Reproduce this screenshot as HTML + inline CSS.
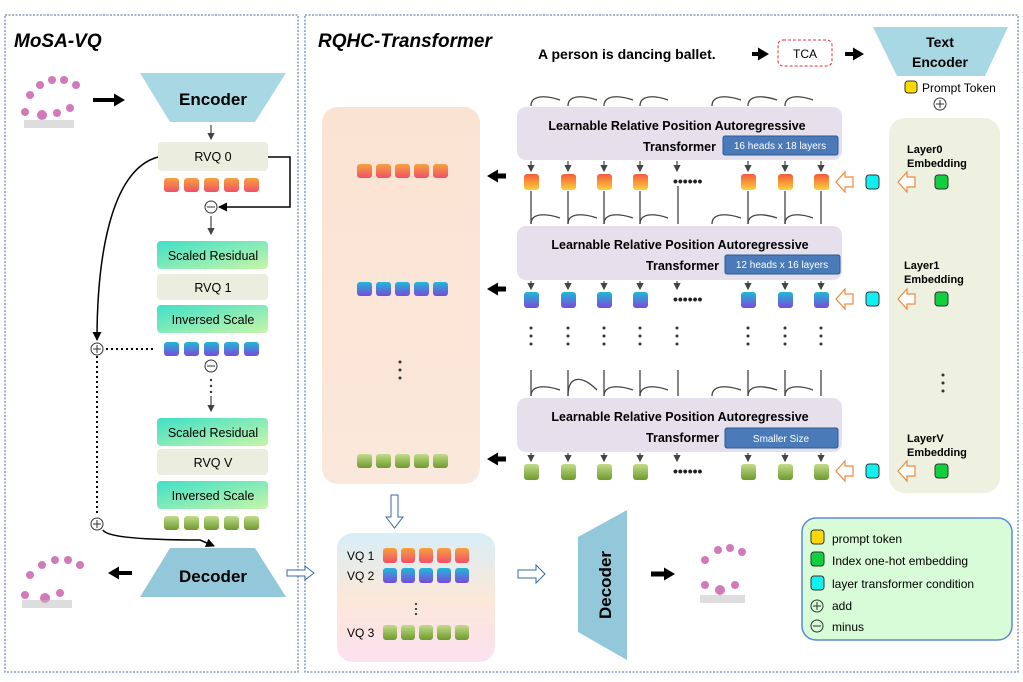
<!DOCTYPE html>
<html><head><meta charset="utf-8"><style>
html,body{margin:0;padding:0;background:#fff}
svg{display:block}
text{font-family:"Liberation Sans","DejaVu Sans",sans-serif}
</style></head><body>
<svg width="1023" height="682" viewBox="0 0 1023 682" xmlns="http://www.w3.org/2000/svg">
<defs>
<linearGradient id="gO" x1="0" y1="0" x2="0" y2="1"><stop offset="0" stop-color="#f7a23c"/><stop offset="1" stop-color="#f0506a"/></linearGradient>
<linearGradient id="gOt" x1="0" y1="0" x2="0" y2="1"><stop offset="0" stop-color="#f45a3a"/><stop offset="1" stop-color="#fdd13a"/></linearGradient>
<linearGradient id="gB" x1="0" y1="0" x2="0" y2="1"><stop offset="0" stop-color="#20b8d8"/><stop offset="1" stop-color="#7a4ad8"/></linearGradient>
<linearGradient id="gG" x1="0" y1="0" x2="0" y2="1"><stop offset="0" stop-color="#c2dc8a"/><stop offset="1" stop-color="#6e9a2e"/></linearGradient>
<linearGradient id="gT" x1="0" y1="0" x2="1" y2="1"><stop offset="0" stop-color="#3ee0c8"/><stop offset="1" stop-color="#c8f5a8"/></linearGradient>
<linearGradient id="gVQ" x1="0" y1="0" x2="0" y2="1"><stop offset="0" stop-color="#d8eef8"/><stop offset="0.5" stop-color="#fbe8d8"/><stop offset="1" stop-color="#fde0f0"/></linearGradient>
<linearGradient id="gP" x1="0" y1="0" x2="0" y2="1"><stop offset="0" stop-color="#fbe3d2"/><stop offset="1" stop-color="#fbe8dc"/></linearGradient>
<marker id="ah" markerWidth="6" markerHeight="6" refX="5" refY="3" orient="auto"><path d="M0,0 L6,3 L0,6 z" fill="#444"/></marker>
<marker id="ahk" markerUnits="userSpaceOnUse" markerWidth="9" markerHeight="9" refX="8" refY="4.5" orient="auto"><path d="M0,0 L9,4.5 L0,9 z" fill="#000"/></marker>
<marker id="ahb" markerUnits="userSpaceOnUse" markerWidth="11" markerHeight="13" refX="2" refY="6.5" orient="auto"><path d="M0,0 L11,6.5 L0,13 z" fill="#000"/></marker>
</defs>

<rect x="5" y="15" width="293" height="657" fill="none" stroke="#8a9ab8" stroke-width="1.5" stroke-dasharray="2,1.5"/>
<rect x="305" y="15" width="713" height="657" fill="none" stroke="#8a9ab8" stroke-width="1.5" stroke-dasharray="2,1.5"/>
<text x="14" y="47" font-size="19" font-weight="bold" font-style="italic">MoSA-VQ</text>
<text x="318" y="47" font-size="19" font-weight="bold" font-style="italic">RQHC-Transformer</text>

<g fill="#c85aa8" opacity="0.8">
<circle cx="30" cy="95" r="4"/><circle cx="40" cy="85" r="4"/><circle cx="52" cy="80" r="4"/><circle cx="64" cy="80" r="4"/><circle cx="76" cy="85" r="4"/><circle cx="25" cy="112" r="4"/><circle cx="42" cy="115" r="5"/><circle cx="57" cy="113" r="4"/><circle cx="70" cy="108" r="4"/>
<circle cx="30" cy="575" r="4"/><circle cx="42" cy="565" r="4"/><circle cx="55" cy="560" r="4"/><circle cx="68" cy="560" r="4"/><circle cx="80" cy="565" r="4"/><circle cx="25" cy="595" r="4"/><circle cx="45" cy="598" r="5"/><circle cx="60" cy="593" r="4"/>
<circle cx="705" cy="560" r="4"/><circle cx="718" cy="550" r="4"/><circle cx="730" cy="548" r="4"/><circle cx="742" cy="552" r="4"/><circle cx="705" cy="585" r="4"/><circle cx="720" cy="590" r="5"/><circle cx="735" cy="585" r="4"/>
</g>
<g fill="#bbb"><rect x="24" y="120" width="50" height="8" opacity="0.5"/><rect x="22" y="600" width="50" height="8" opacity="0.5"/><rect x="700" y="595" width="45" height="8" opacity="0.5"/></g>

<line x1="93" y1="100" x2="116" y2="100" stroke="#000" stroke-width="4" marker-end="url(#ahb)"/>
<polygon points="140,73 286,73 255,122 170,122" fill="#a8d8e4"/>
<text x="213" y="105" font-size="17" font-weight="bold" text-anchor="middle">Encoder</text>
<line x1="211" y1="125" x2="211" y2="139" stroke="#444" stroke-width="1.2" marker-end="url(#ah)"/>

<g font-size="12.5" text-anchor="middle">
<rect x="158" y="142" width="110" height="29" rx="4" fill="#ebedde"/><text x="213" y="161">RVQ 0</text>
<rect x="157" y="241" width="111" height="28" rx="4" fill="url(#gT)"/><text x="213" y="260">Scaled Residual</text>
<rect x="157" y="274" width="111" height="26" rx="4" fill="#ebedde"/><text x="213" y="292">RVQ 1</text>
<rect x="157" y="305" width="111" height="28" rx="4" fill="url(#gT)"/><text x="213" y="324">Inversed Scale</text>
<rect x="157" y="418" width="111" height="28" rx="4" fill="url(#gT)"/><text x="213" y="437">Scaled Residual</text>
<rect x="157" y="449" width="111" height="26" rx="4" fill="#ebedde"/><text x="213" y="467">RVQ V</text>
<rect x="157" y="481" width="111" height="28" rx="4" fill="url(#gT)"/><text x="213" y="500">Inversed Scale</text>
</g>
<g>
<rect x="164" y="178" width="15" height="14" rx="3" fill="url(#gO)"/><rect x="184" y="178" width="15" height="14" rx="3" fill="url(#gO)"/><rect x="204" y="178" width="15" height="14" rx="3" fill="url(#gO)"/><rect x="224" y="178" width="15" height="14" rx="3" fill="url(#gO)"/><rect x="244" y="178" width="15" height="14" rx="3" fill="url(#gO)"/>
<rect x="164" y="342" width="15" height="14" rx="3" fill="url(#gB)"/><rect x="184" y="342" width="15" height="14" rx="3" fill="url(#gB)"/><rect x="204" y="342" width="15" height="14" rx="3" fill="url(#gB)"/><rect x="224" y="342" width="15" height="14" rx="3" fill="url(#gB)"/><rect x="244" y="342" width="15" height="14" rx="3" fill="url(#gB)"/>
<rect x="164" y="516" width="15" height="14" rx="3" fill="url(#gG)"/><rect x="184" y="516" width="15" height="14" rx="3" fill="url(#gG)"/><rect x="204" y="516" width="15" height="14" rx="3" fill="url(#gG)"/><rect x="224" y="516" width="15" height="14" rx="3" fill="url(#gG)"/><rect x="244" y="516" width="15" height="14" rx="3" fill="url(#gG)"/>
</g>
<path d="M268,157 H290 V207 H219" fill="none" stroke="#000" stroke-width="1.5" marker-end="url(#ahk)"/>
<circle cx="211" cy="207" r="6" fill="#fff" stroke="#333"/><line x1="207" y1="207" x2="215" y2="207" stroke="#333"/>
<line x1="211" y1="216" x2="211" y2="234" stroke="#444" stroke-width="1.2" marker-end="url(#ah)"/>
<circle cx="211" cy="366" r="6" fill="#fff" stroke="#333"/><line x1="207" y1="366" x2="215" y2="366" stroke="#333"/>
<g fill="#333"><circle cx="211" cy="380" r="1.2"/><circle cx="211" cy="386" r="1.2"/><circle cx="211" cy="392" r="1.2"/></g>
<line x1="211" y1="396" x2="211" y2="411" stroke="#444" stroke-width="1.2" marker-end="url(#ah)"/>
<path d="M158,157 C110,170 97,260 97,340" fill="none" stroke="#000" stroke-width="1.5" marker-end="url(#ahk)"/>
<circle cx="97" cy="349" r="6" fill="#fff" stroke="#333"/><line x1="93" y1="349" x2="101" y2="349" stroke="#333"/><line x1="97" y1="345" x2="97" y2="353" stroke="#333"/>
<line x1="106" y1="349" x2="155" y2="349" stroke="#000" stroke-width="2" stroke-dasharray="2,3"/>
<line x1="97" y1="356" x2="97" y2="515" stroke="#000" stroke-width="2" stroke-dasharray="2,3"/>
<circle cx="97" cy="524" r="6" fill="#fff" stroke="#333"/><line x1="93" y1="524" x2="101" y2="524" stroke="#333"/><line x1="97" y1="520" x2="97" y2="528" stroke="#333"/>
<path d="M103,530 Q108,540 200,540 L214,546" fill="none" stroke="#000" stroke-width="1.5" marker-end="url(#ahk)"/>
<polygon points="170,548 255,548 286,597 140,597" fill="#92c8da"/>
<text x="213" y="582" font-size="17" font-weight="bold" text-anchor="middle">Decoder</text>
<line x1="132" y1="573" x2="117" y2="573" stroke="#000" stroke-width="4" marker-end="url(#ahb)"/>
<path d="M287,570 H305 V566 L314,573 L305,580 V576 H287 Z" fill="#fff" stroke="#3a6aa8"/>

<text x="538" y="59" font-size="14" font-weight="bold">A person is dancing ballet.</text>
<line x1="752" y1="54" x2="760" y2="54" stroke="#000" stroke-width="4" marker-end="url(#ahb)"/>
<rect x="778" y="40" width="54" height="26" rx="5" fill="#fff" stroke="#e03030" stroke-dasharray="3,2"/>
<text x="805" y="58" font-size="12" text-anchor="middle">TCA</text>
<line x1="845" y1="54" x2="855" y2="54" stroke="#000" stroke-width="4" marker-end="url(#ahb)"/>
<polygon points="873,27 1008,27 985,76 897,76" fill="#a8d8e4"/>
<text x="940" y="47" font-size="14" font-weight="bold" text-anchor="middle">Text</text>
<text x="940" y="67" font-size="14" font-weight="bold" text-anchor="middle">Encoder</text>
<rect x="905" y="81" width="12" height="12" rx="3" fill="#ffd800" stroke="#333"/>
<text x="922" y="92" font-size="12">Prompt Token</text>
<circle cx="940" cy="104" r="6" fill="#fff" stroke="#333"/><line x1="936" y1="104" x2="944" y2="104" stroke="#333"/><line x1="940" y1="100" x2="940" y2="108" stroke="#333"/>

<rect x="889" y="118" width="111" height="375" rx="16" fill="#eef0e0"/>
<rect x="322" y="107" width="158" height="377" rx="16" fill="url(#gP)"/>
<g font-size="11" font-weight="bold">
<text x="907" y="153">Layer0</text><text x="907" y="167">Embedding</text>
<text x="904" y="269">Layer1</text><text x="904" y="283">Embedding</text>
<text x="907" y="442">LayerV</text><text x="907" y="456">Embedding</text>
</g>
<g fill="#333"><circle cx="943" cy="375" r="1.5"/><circle cx="943" cy="383" r="1.5"/><circle cx="943" cy="391" r="1.5"/></g>

<g font-size="12.5" font-weight="bold">
<rect x="517" y="107" width="325" height="53" rx="9" fill="#e6e0ec"/>
<text x="677" y="130" text-anchor="middle">Learnable Relative Position Autoregressive</text>
<text x="716" y="151" text-anchor="end">Transformer</text>
<rect x="517" y="226" width="325" height="54" rx="9" fill="#e6e0ec"/>
<text x="680" y="249" text-anchor="middle">Learnable Relative Position Autoregressive</text>
<text x="719" y="270" text-anchor="end">Transformer</text>
<rect x="517" y="398" width="325" height="54" rx="9" fill="#e6e0ec"/>
<text x="680" y="421" text-anchor="middle">Learnable Relative Position Autoregressive</text>
<text x="719" y="442" text-anchor="end">Transformer</text>
</g>
<g font-size="10" fill="#fff" text-anchor="middle">
<rect x="723" y="136" width="115" height="19" rx="2" fill="#4a7ab8" stroke="#2a5a98"/><text x="780" y="149">16 heads x 18 layers</text>
<rect x="725" y="255" width="115" height="19" rx="2" fill="#4a7ab8" stroke="#2a5a98"/><text x="782" y="268">12 heads x 16 layers</text>
<rect x="725" y="428" width="113" height="20" rx="2" fill="#4a7ab8" stroke="#2a5a98"/><text x="781" y="442">Smaller Size</text>
</g>

<g stroke="#444" stroke-width="1.3" fill="none">
<path d="M531,106 C531,95 545,95 560,100 M568,106 C568,95 582,95 597,100 M604,106 C604,95 618,95 633,100 M640,106 C640,95 654,95 668,100 M712,106 C712,95 726,95 741,100 M748,106 C748,95 762,95 777,100 M785,106 C785,95 799,95 813,100"/>
<path d="M531,224 C531,213 545,213 560,218 M568,224 C568,213 582,213 597,218 M604,224 C604,213 618,213 633,218 M640,224 C640,213 654,213 668,218 M712,224 C712,213 726,213 741,218 M748,224 C748,213 762,213 777,218 M785,224 C785,213 799,213 813,218"/>
<path d="M531,396 C531,385 545,385 560,390 M568,396 C568,375 582,375 597,390 M604,396 C604,385 618,385 633,390 M640,396 C640,385 654,385 668,390 M712,396 C712,385 726,385 741,390 M748,396 C748,385 762,385 777,390 M785,396 C785,385 799,385 813,390"/>
<path d="M531,191 V224 M568,191 V224 M604,191 V224 M640,191 V224 M678,186 V224 M748,191 V224 M785,191 V224 M821,191 V224"/>
<path d="M531,370 V396 M568,370 V396 M604,370 V396 M640,370 V396 M678,370 V396 M748,370 V396 M785,370 V396 M821,370 V396"/>
</g>
<g stroke="#444" stroke-width="1.2">
<line x1="531" y1="161" x2="531" y2="171" marker-end="url(#ah)"/><line x1="568" y1="161" x2="568" y2="171" marker-end="url(#ah)"/><line x1="604" y1="161" x2="604" y2="171" marker-end="url(#ah)"/><line x1="640" y1="161" x2="640" y2="171" marker-end="url(#ah)"/><line x1="677" y1="161" x2="677" y2="171" marker-end="url(#ah)"/><line x1="748" y1="161" x2="748" y2="171" marker-end="url(#ah)"/><line x1="785" y1="161" x2="785" y2="171" marker-end="url(#ah)"/><line x1="821" y1="161" x2="821" y2="171" marker-end="url(#ah)"/>
<line x1="531" y1="281" x2="531" y2="289" marker-end="url(#ah)"/><line x1="568" y1="281" x2="568" y2="289" marker-end="url(#ah)"/><line x1="604" y1="281" x2="604" y2="289" marker-end="url(#ah)"/><line x1="640" y1="281" x2="640" y2="289" marker-end="url(#ah)"/><line x1="677" y1="281" x2="677" y2="289" marker-end="url(#ah)"/><line x1="748" y1="281" x2="748" y2="289" marker-end="url(#ah)"/><line x1="785" y1="281" x2="785" y2="289" marker-end="url(#ah)"/><line x1="821" y1="281" x2="821" y2="289" marker-end="url(#ah)"/>
<line x1="531" y1="453" x2="531" y2="461" marker-end="url(#ah)"/><line x1="568" y1="453" x2="568" y2="461" marker-end="url(#ah)"/><line x1="604" y1="453" x2="604" y2="461" marker-end="url(#ah)"/><line x1="640" y1="453" x2="640" y2="461" marker-end="url(#ah)"/><line x1="677" y1="453" x2="677" y2="461" marker-end="url(#ah)"/><line x1="748" y1="453" x2="748" y2="461" marker-end="url(#ah)"/><line x1="785" y1="453" x2="785" y2="461" marker-end="url(#ah)"/><line x1="821" y1="453" x2="821" y2="461" marker-end="url(#ah)"/>
</g>
<g>
<rect x="524" y="174" width="15" height="16" rx="3" fill="url(#gOt)"/><rect x="561" y="174" width="15" height="16" rx="3" fill="url(#gOt)"/><rect x="597" y="174" width="15" height="16" rx="3" fill="url(#gOt)"/><rect x="633" y="174" width="15" height="16" rx="3" fill="url(#gOt)"/><rect x="741" y="174" width="15" height="16" rx="3" fill="url(#gOt)"/><rect x="778" y="174" width="15" height="16" rx="3" fill="url(#gOt)"/><rect x="814" y="174" width="15" height="16" rx="3" fill="url(#gOt)"/>
<rect x="524" y="292" width="15" height="16" rx="3" fill="url(#gB)"/><rect x="561" y="292" width="15" height="16" rx="3" fill="url(#gB)"/><rect x="597" y="292" width="15" height="16" rx="3" fill="url(#gB)"/><rect x="633" y="292" width="15" height="16" rx="3" fill="url(#gB)"/><rect x="741" y="292" width="15" height="16" rx="3" fill="url(#gB)"/><rect x="778" y="292" width="15" height="16" rx="3" fill="url(#gB)"/><rect x="814" y="292" width="15" height="16" rx="3" fill="url(#gB)"/>
<rect x="524" y="464" width="15" height="16" rx="3" fill="url(#gG)"/><rect x="561" y="464" width="15" height="16" rx="3" fill="url(#gG)"/><rect x="597" y="464" width="15" height="16" rx="3" fill="url(#gG)"/><rect x="633" y="464" width="15" height="16" rx="3" fill="url(#gG)"/><rect x="741" y="464" width="15" height="16" rx="3" fill="url(#gG)"/><rect x="778" y="464" width="15" height="16" rx="3" fill="url(#gG)"/><rect x="814" y="464" width="15" height="16" rx="3" fill="url(#gG)"/>
</g>
<g fill="#222" font-size="14" font-weight="bold">
<text x="673" y="186">••••••</text><text x="673" y="304">••••••</text><text x="673" y="476">••••••</text>
</g>
<g fill="#333">
<circle cx="531" cy="328" r="1.5"/><circle cx="531" cy="336" r="1.5"/><circle cx="531" cy="344" r="1.5"/>
<circle cx="568" cy="328" r="1.5"/><circle cx="568" cy="336" r="1.5"/><circle cx="568" cy="344" r="1.5"/>
<circle cx="604" cy="328" r="1.5"/><circle cx="604" cy="336" r="1.5"/><circle cx="604" cy="344" r="1.5"/>
<circle cx="640" cy="328" r="1.5"/><circle cx="640" cy="336" r="1.5"/><circle cx="640" cy="344" r="1.5"/>
<circle cx="677" cy="328" r="1.5"/><circle cx="677" cy="336" r="1.5"/><circle cx="677" cy="344" r="1.5"/>
<circle cx="748" cy="328" r="1.5"/><circle cx="748" cy="336" r="1.5"/><circle cx="748" cy="344" r="1.5"/>
<circle cx="785" cy="328" r="1.5"/><circle cx="785" cy="336" r="1.5"/><circle cx="785" cy="344" r="1.5"/>
<circle cx="821" cy="328" r="1.5"/><circle cx="821" cy="336" r="1.5"/><circle cx="821" cy="344" r="1.5"/>
<circle cx="400" cy="362" r="1.5"/><circle cx="400" cy="370" r="1.5"/><circle cx="400" cy="378" r="1.5"/>
</g>

<g fill="#fff" stroke="#f08a40" stroke-width="1.2">
<path d="M836,182 L845,172 V177 H853 V187 H845 V192 Z"/><path d="M898,182 L907,172 V177 H915 V187 H907 V192 Z"/>
<path d="M836,299 L845,289 V294 H853 V304 H845 V309 Z"/><path d="M898,299 L907,289 V294 H915 V304 H907 V309 Z"/>
<path d="M836,471 L845,461 V466 H853 V476 H845 V481 Z"/><path d="M898,471 L907,461 V466 H915 V476 H907 V481 Z"/>
</g>
<g stroke="#333">
<rect x="866" y="175" width="13" height="14" rx="3" fill="#10f0f0"/><rect x="866" y="292" width="13" height="14" rx="3" fill="#10f0f0"/><rect x="866" y="464" width="13" height="14" rx="3" fill="#10f0f0"/>
<rect x="935" y="175" width="13" height="14" rx="3" fill="#10d040"/><rect x="935" y="292" width="13" height="14" rx="3" fill="#10d040"/><rect x="935" y="464" width="13" height="14" rx="3" fill="#10d040"/>
</g>

<g stroke="#000" stroke-width="5">
<line x1="506" y1="176" x2="496" y2="176" marker-end="url(#ahb)"/>
<line x1="506" y1="289" x2="496" y2="289" marker-end="url(#ahb)"/>
<line x1="506" y1="459" x2="496" y2="459" marker-end="url(#ahb)"/>
</g>

<g>
<rect x="357" y="164" width="15" height="14" rx="3" fill="url(#gO)"/><rect x="376" y="164" width="15" height="14" rx="3" fill="url(#gO)"/><rect x="395" y="164" width="15" height="14" rx="3" fill="url(#gO)"/><rect x="414" y="164" width="15" height="14" rx="3" fill="url(#gO)"/><rect x="433" y="164" width="15" height="14" rx="3" fill="url(#gO)"/>
<rect x="357" y="282" width="15" height="14" rx="3" fill="url(#gB)"/><rect x="376" y="282" width="15" height="14" rx="3" fill="url(#gB)"/><rect x="395" y="282" width="15" height="14" rx="3" fill="url(#gB)"/><rect x="414" y="282" width="15" height="14" rx="3" fill="url(#gB)"/><rect x="433" y="282" width="15" height="14" rx="3" fill="url(#gB)"/>
<rect x="357" y="454" width="15" height="14" rx="3" fill="url(#gG)"/><rect x="376" y="454" width="15" height="14" rx="3" fill="url(#gG)"/><rect x="395" y="454" width="15" height="14" rx="3" fill="url(#gG)"/><rect x="414" y="454" width="15" height="14" rx="3" fill="url(#gG)"/><rect x="433" y="454" width="15" height="14" rx="3" fill="url(#gG)"/>
</g>

<path d="M391,495 H398 V517 H403 L394.5,528 L386,517 H391 Z" fill="#fff" stroke="#3a6aa8"/>

<rect x="337" y="533" width="158" height="129" rx="16" fill="url(#gVQ)"/>
<g font-size="12">
<text x="347" y="560">VQ 1</text><text x="347" y="580">VQ 2</text><text x="347" y="637">VQ 3</text>
</g>
<g>
<rect x="383" y="548" width="14" height="15" rx="3" fill="url(#gO)"/><rect x="401" y="548" width="14" height="15" rx="3" fill="url(#gO)"/><rect x="419" y="548" width="14" height="15" rx="3" fill="url(#gO)"/><rect x="437" y="548" width="14" height="15" rx="3" fill="url(#gO)"/><rect x="455" y="548" width="14" height="15" rx="3" fill="url(#gO)"/>
<rect x="383" y="568" width="14" height="15" rx="3" fill="url(#gB)"/><rect x="401" y="568" width="14" height="15" rx="3" fill="url(#gB)"/><rect x="419" y="568" width="14" height="15" rx="3" fill="url(#gB)"/><rect x="437" y="568" width="14" height="15" rx="3" fill="url(#gB)"/><rect x="455" y="568" width="14" height="15" rx="3" fill="url(#gB)"/>
<rect x="383" y="625" width="14" height="15" rx="3" fill="url(#gG)"/><rect x="401" y="625" width="14" height="15" rx="3" fill="url(#gG)"/><rect x="419" y="625" width="14" height="15" rx="3" fill="url(#gG)"/><rect x="437" y="625" width="14" height="15" rx="3" fill="url(#gG)"/><rect x="455" y="625" width="14" height="15" rx="3" fill="url(#gG)"/>
</g>
<g fill="#333"><circle cx="416" cy="604" r="1.1"/><circle cx="416" cy="609" r="1.1"/><circle cx="416" cy="614" r="1.1"/></g>

<path d="M518,570 H536 V565 L545,574 L536,583 V578 H518 Z" fill="#fff" stroke="#3a6aa8"/>
<polygon points="578,537 627,510 627,660 578,632" fill="#92c8da"/>
<text transform="translate(611,585) rotate(-90)" font-size="17" font-weight="bold" text-anchor="middle">Decoder</text>
<line x1="651" y1="574" x2="666" y2="574" stroke="#000" stroke-width="5" marker-end="url(#ahb)"/>

<rect x="802" y="518" width="210" height="122" rx="14" fill="#d8fbd8" stroke="#5a8ad8" stroke-width="1.5"/>
<g font-size="12">
<rect x="811" y="530" width="13" height="14" rx="3" fill="#ffd800" stroke="#333"/><text x="832" y="543">prompt token</text>
<rect x="811" y="552" width="13" height="14" rx="3" fill="#10d040" stroke="#333"/><text x="832" y="565">Index one-hot embedding</text>
<rect x="811" y="576" width="13" height="14" rx="3" fill="#10f0f0" stroke="#333"/><text x="832" y="588">layer transformer condition</text>
<circle cx="817" cy="606" r="6" fill="none" stroke="#333"/><line x1="813" y1="606" x2="821" y2="606" stroke="#333"/><line x1="817" y1="602" x2="817" y2="610" stroke="#333"/><text x="832" y="610">add</text>
<circle cx="817" cy="626" r="6" fill="none" stroke="#333"/><line x1="813" y1="626" x2="821" y2="626" stroke="#333"/><text x="832" y="631">minus</text>
</g>
</svg>
</body></html>
